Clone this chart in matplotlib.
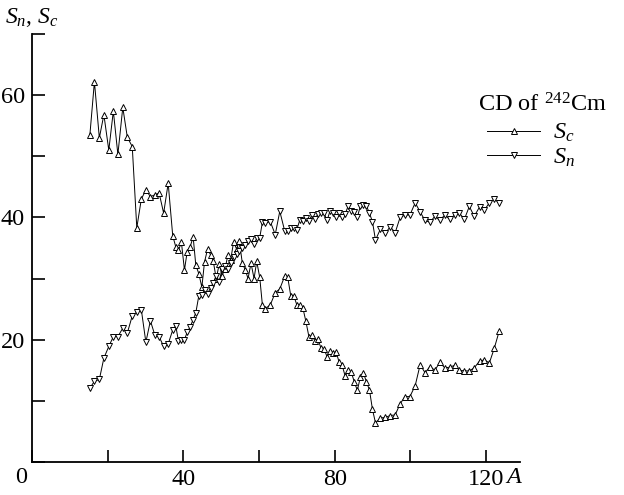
import numpy as np
import matplotlib
matplotlib.use('Agg')
import matplotlib.pyplot as plt
from matplotlib.transforms import offset_copy

plt.rcParams['font.family'] = 'Liberation Serif'
plt.rcParams['mathtext.fontset'] = 'custom'
plt.rcParams['mathtext.rm'] = 'Liberation Serif'
plt.rcParams['mathtext.it'] = 'Liberation Serif:italic'

# mass number of the emitted cluster
mass_a = [15.3, 16.5, 17.8, 19.0, 20.3, 21.5, 22.7, 24.0, 25.2, 26.5,
          27.7, 28.9, 30.1, 31.3, 32.5, 33.6, 34.8, 36.0, 37.2, 38.0,
          38.7, 39.5, 40.3, 41.0, 41.8, 42.6, 43.3, 44.1, 44.9, 45.6,
          46.4, 47.2, 47.9, 48.7, 49.5, 50.2, 51.0, 51.8, 52.5, 53.3,
          54.1, 54.8, 55.6, 56.4, 57.1, 57.9, 58.7, 59.4, 60.2, 60.9,
          61.7, 63.0, 64.3, 65.5, 66.8, 67.6, 68.4, 69.2, 70.0, 70.8,
          71.6, 72.4, 73.2, 74.0, 74.8, 75.6, 76.4, 77.2, 78.0, 78.8,
          79.6, 80.4, 81.2, 82.0, 82.8, 83.6, 84.4, 85.2, 86.0, 86.8,
          87.6, 88.4, 89.2, 90.0, 90.8, 92.1, 93.4, 94.7, 96.0, 97.3,
          98.6, 99.9, 101.3, 102.6, 103.9, 105.2, 106.5, 107.8, 109.1, 110.4,
          111.7, 113.0, 114.3, 115.6, 116.9, 118.3, 119.6, 120.9, 122.2, 123.5]

s_c = [53.5, 62.2, 53.0, 56.8, 51.0, 57.4, 50.3, 58.0, 53.1, 51.6,
       38.3, 43.0, 44.5, 43.4, 43.7, 44.0, 40.7, 45.6, 37.0, 35.2,
       34.6, 35.9, 31.4, 34.3, 35.2, 36.8, 32.2, 30.8, 28.6, 32.7,
       34.8, 33.9, 32.9, 30.0, 32.4, 30.5, 31.5, 33.9, 33.0, 36.0,
       34.8, 36.2, 32.5, 31.4, 30.0, 32.5, 30.0, 32.8, 30.2, 25.7,
       25.1, 25.7, 27.7, 28.3, 30.4, 30.2, 27.2, 27.2, 25.7, 25.6,
       25.2, 23.0, 20.5, 20.7, 19.8, 20.1, 18.6, 18.5, 17.2, 18.2,
       17.9, 18.0, 16.3, 15.8, 14.0, 15.1, 14.7, 13.1, 11.7, 13.9,
       14.6, 13.1, 11.8, 8.6, 6.4, 7.2, 7.3, 7.6, 7.7, 9.5,
       10.7, 10.7, 12.5, 15.9, 14.6, 15.6, 15.0, 16.3, 15.4, 15.5,
       15.8, 15.0, 14.9, 14.9, 15.4, 16.5, 16.7, 16.2, 18.6, 21.4]

s_n = [12.1, 13.2, 13.5, 17.0, 18.9, 20.5, 20.5, 21.9, 21.1, 23.9,
       24.5, 24.9, 19.6, 23.1, 20.7, 20.5, 18.9, 19.3, 21.6, 22.3,
       19.8, 20.0, 20.0, 21.2, 22.1, 23.3, 24.4, 27.2, 27.3, 28.2,
       27.5, 28.5, 29.3, 30.5, 29.5, 31.5, 32.0, 31.5, 32.5, 33.5,
       34.0, 34.5, 35.0, 35.5, 36.2, 36.4, 35.6, 36.6, 36.7, 39.2,
       39.1, 39.3, 37.2, 41.0, 37.8, 37.8, 38.2, 38.3, 38.0, 39.6,
       39.4, 39.9, 39.4, 40.4, 39.7, 40.6, 40.7, 40.7, 39.5, 41.1,
       40.7, 40.0, 40.7, 40.0, 40.6, 41.9, 41.0, 40.9, 40.0, 41.9,
       42.0, 41.9, 40.7, 39.3, 36.3, 38.1, 37.4, 38.5, 37.5, 40.0,
       40.4, 40.4, 42.4, 40.9, 39.5, 39.2, 40.2, 39.5, 40.4, 39.7,
       40.4, 40.7, 39.7, 41.8, 40.2, 41.7, 41.2, 42.4, 43.0, 42.4]

W, H = 624, 495
fig = plt.figure(figsize=(W / 100, H / 100), dpi=100)
ax = fig.add_axes([32 / W, 33 / H, 488 / W, 428 / H])

mk = dict(markersize=4.5, markerfacecolor='white', markeredgecolor='black',
          markeredgewidth=0.7, color='black', linewidth=0.7)
ax.plot(mass_a, s_c, marker='^', label='$S_c$', clip_on=False, **mk)
ax.plot(mass_a, s_n, marker='v', label='$S_n$', clip_on=False, **mk)

ax.set_xlim(0, 129)
ax.set_ylim(0, 70)
for side in ['top', 'right']:
    ax.spines[side].set_visible(False)
for side in ['left', 'bottom']:
    ax.spines[side].set_linewidth(1.3)

ax.tick_params(direction='in', length=9, width=1.2, labelsize=17.5, pad=5)
ax.set_xticks(range(0, 121, 20))
ax.set_xticklabels(['', '', '40', '', '80', '', '120'])
ax.set_yticks(range(0, 71, 10))
ax.set_yticklabels(['', '', '20', '', '40', '', '60', ''])

below = offset_copy(ax.transData, fig=fig, x=0, y=-5, units='dots')
ax.text(-2.9, 0, '0', transform=below, ha='center', va='top', fontsize=17.5)
ax.text(127.5, 0, '$A$', transform=below, ha='center', va='top', fontsize=17.5)
fig.text(5 / W, 1 - 6 / H, '$S_n$, $S_c$', ha='left', va='top', fontsize=17)

fig.text(478 / W, 1 - 105 / H, 'CD of $^{242}$Cm', ha='left', va='center', fontsize=17.5)
fig.legend(*ax.get_legend_handles_labels(), loc='upper left',
           bbox_to_anchor=(487 / W, 1 - 122 / H), frameon=False,
           fontsize=17.5, numpoints=1, handlelength=2.2, handletextpad=0.5,
           labelspacing=0.1, borderpad=0, borderaxespad=0)

fig.savefig('out.png', dpi=100)
